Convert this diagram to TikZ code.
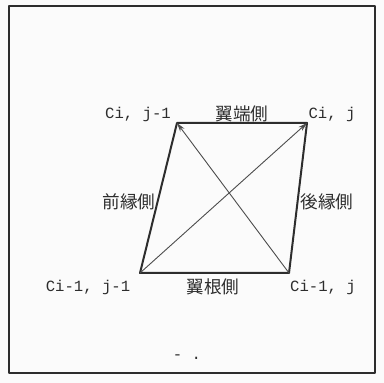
\documentclass[tikz,border=0pt]{standalone}
\usepackage{fontspec}
\setmonofont{Liberation Mono}
\newfontfamily\jpfont{Noto Sans CJK JP}
\usepackage{tikz}
\usetikzlibrary{arrows.meta}
\definecolor{ink}{RGB}{45,45,45}

\begin{document}
\begin{tikzpicture}[x=0.5pt,y=-0.5pt,line join=round,
    cornerlbl/.style={inner sep=0pt,text=ink,font=\ttfamily\fontsize{7.8}{8}\selectfont},
    sidelbl/.style={inner sep=0pt,text=ink,font=\jpfont\fontsize{8.8}{9}\selectfont}]
  \useasboundingbox (0,0) rectangle (384,383);
  \fill[white!97!gray] (0,0) rectangle (384,383);
  \draw[ink,line width=0.7pt] (9,6) rectangle (375,373);
  \coordinate (TL) at (177,123); \coordinate (TR) at (307,123);
  \coordinate (BL) at (140,273); \coordinate (BR) at (289,273);
  \draw[ink,line width=1pt] (TL)--(TR)--(BR)--(BL)--cycle;
  \draw[ink!85,line width=0.45pt,-{Stealth[length=4.5pt,width=2.6pt]}] (BL)--(TR);
  \draw[ink!85,line width=0.45pt,-{Stealth[length=4.5pt,width=2.6pt]}] (BR)--(TL);
  \node[cornerlbl] (cTL) at (138,114) {Ci, j-1};
  \node[cornerlbl] (cTR) at (332,114) {Ci, j};
  \node[cornerlbl] (cBL) at (88,287) {Ci-1, j-1};
  \node[cornerlbl] (cBR) at (323,287) {Ci-1, j};
  \node[sidelbl] (tip) at (242,114) {翼端側};
  \node[sidelbl] (root) at (213,287) {翼根側};
  \node[sidelbl] (lead) at (129,202) {前縁側};
  \node[sidelbl] (trail) at (327,202) {後縁側};
  \node[cornerlbl] (mark) at (187,357) {- .};
\end{tikzpicture}
\end{document}
